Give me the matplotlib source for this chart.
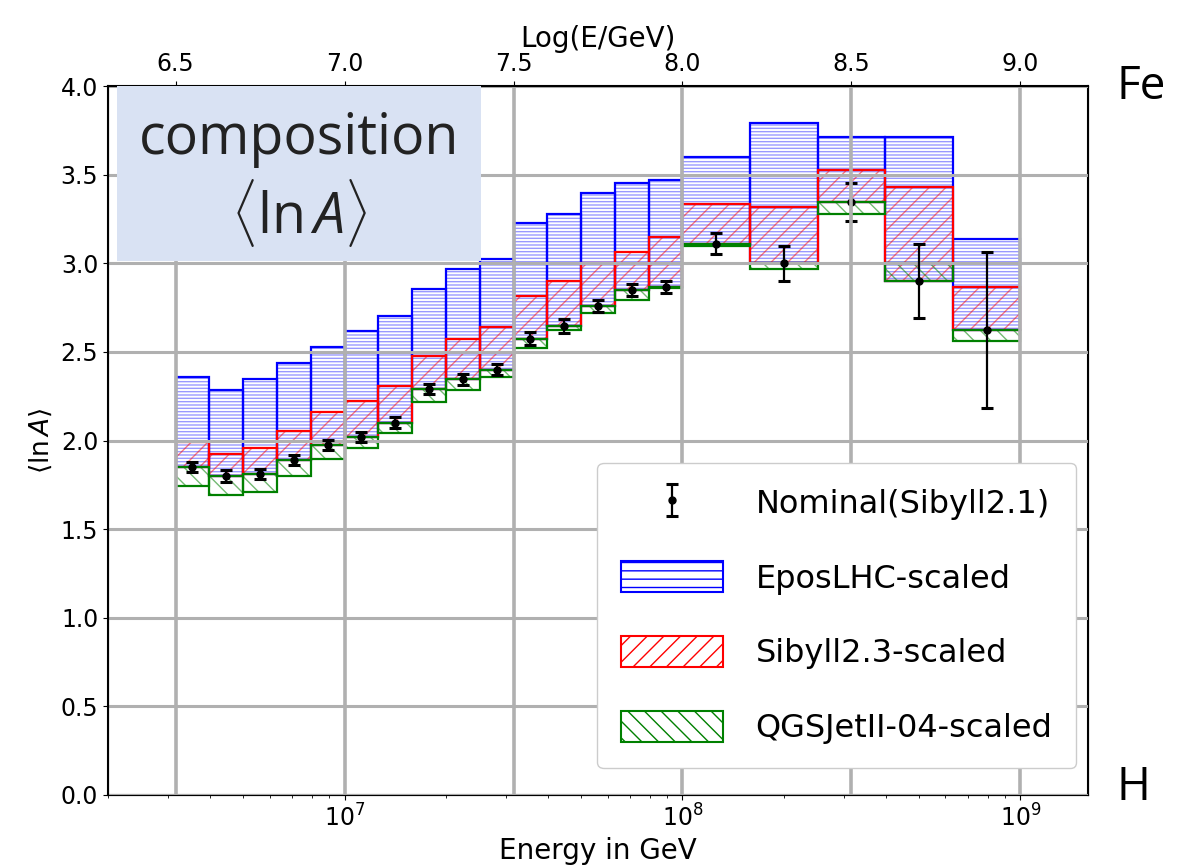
import numpy as np
import matplotlib
matplotlib.use("Agg")
import matplotlib.pyplot as plt
from matplotlib.colors import to_rgba
from matplotlib.patches import Patch, Rectangle

# bin edges in log10(E/GeV)
log_edges = [6.5, 6.6, 6.7, 6.8, 6.9, 7.0, 7.1, 7.2, 7.3, 7.4, 7.5,
             7.6, 7.7, 7.8, 7.9, 8.0, 8.2, 8.4, 8.6, 8.8, 9.0]

nominal = [1.85, 1.80, 1.81, 1.89, 1.975, 2.02, 2.10, 2.29, 2.345, 2.40,
           2.575, 2.645, 2.76, 2.85, 2.865, 3.11, 3.00, 3.345, 2.90, 2.625]
nominal_err = [0.028, 0.035, 0.03, 0.03, 0.03, 0.03, 0.03, 0.03, 0.03, 0.03,
               0.035, 0.04, 0.035, 0.035, 0.035, 0.06, 0.10, 0.105, 0.21, 0.44]
epos_lhc = [2.36, 2.285, 2.345, 2.44, 2.525, 2.62, 2.70, 2.855, 2.97, 3.025,
            3.225, 3.28, 3.395, 3.45, 3.47, 3.60, 3.79, 3.71, 3.71, 3.135]
sibyll23 = [1.99, 1.925, 1.955, 2.055, 2.16, 2.225, 2.31, 2.475, 2.57, 2.64,
            2.815, 2.90, 3.00, 3.065, 3.15, 3.335, 3.32, 3.525, 3.43, 2.865]
qgsjet = [1.745, 1.695, 1.71, 1.80, 1.895, 1.955, 2.04, 2.22, 2.285, 2.36,
          2.52, 2.625, 2.72, 2.79, 2.86, 3.10, 2.97, 3.28, 3.00, 2.56]

# label, values, colour, hatch in plot, hatch alpha, hatch in legend
models = [
    ("EposLHC-scaled", epos_lhc, "blue", "-----", 0.4, "--"),
    ("Sibyll2.3-scaled", sibyll23, "red", "//", 0.5, "//"),
    ("QGSJetII-04-scaled", qgsjet, "green", "\\\\", 0.55, "\\\\"),
]

plt.rcParams["mathtext.rm"] = "Open Sans"
plt.rcParams["mathtext.it"] = "Open Sans:italic"
plt.rcParams["hatch.linewidth"] = 1.0

fig = plt.figure(figsize=(11.89, 8.68), dpi=100)
ax = fig.add_axes([108 / 1189, 1 - 795 / 868, 980 / 1189, 709 / 868])

edges = 10 ** np.array(log_edges)
left = edges[:-1]
width = edges[1:] - edges[:-1]
centers = 10 ** ((np.array(log_edges[:-1]) + np.array(log_edges[1:])) / 2)
nom = np.array(nominal)

legend_handles = []
for label, vals, color, hatch, alpha, leg_hatch in models:
    h = np.array(vals) - nom
    ax.bar(left, h, width, bottom=nom, align="edge", facecolor="none",
           edgecolor=to_rgba(color, alpha), hatch=hatch, linewidth=0)
    ax.bar(left, h, width, bottom=nom, align="edge", fill=False,
           edgecolor=color, linewidth=1.6)
    legend_handles.append(Patch(facecolor="white", edgecolor=color,
                                hatch=leg_hatch, linewidth=1.5, label=label))

eb = ax.errorbar(centers, nom, yerr=nominal_err, fmt="o", color="black",
                 ms=5, capsize=4, elinewidth=1.6, capthick=2.2, zorder=3,
                 label="Nominal(Sibyll2.1)")

ax.set_xscale("log")
ax.set_xlim(10 ** 6.3, 10 ** 9.2)
ax.set_ylim(0, 4.0)
ax.set_yticks(np.arange(0, 4.01, 0.5))
ax.set_yticklabels([f"{v:.1f}" for v in np.arange(0, 4.01, 0.5)])
ax.set_axisbelow(False)
ax.grid(True, axis="x", which="major", color="#b8b8b8", linewidth=1.3)
ax.grid(True, axis="y", color="#b0b0b0", linewidth=2.2)
ax.tick_params(labelsize=17)
ax.set_xlabel("Energy in GeV", fontsize=20)
ax.set_ylabel(r"$\langle\ln A\rangle$", fontsize=19)
for s in ax.spines.values():
    s.set_linewidth(1.5)

ax2 = ax.twiny()
ax2.set_xlim(6.3, 9.2)
ax2.set_xticks(np.arange(6.5, 9.01, 0.5))
ax2.set_xticklabels([f"{v:.1f}" for v in np.arange(6.5, 9.01, 0.5)])
ax2.grid(True, axis="x", color="#b0b0b0", linewidth=2.6)
ax2.tick_params(labelsize=17)
ax2.set_xlabel("Log(E/GeV)", fontsize=20)

leg = ax2.legend([eb] + legend_handles,
                 ["Nominal(Sibyll2.1)"] + [m[0] for m in models],
                 loc="lower right", bbox_to_anchor=(0.988, 0.038),
                 borderaxespad=0, fontsize=23, handlelength=3.2,
                 handleheight=1.1, labelspacing=1.3, borderpad=0.75,
                 handletextpad=1.0, framealpha=1, edgecolor="#cccccc",
                 fancybox=True)
leg.set_zorder(10)

# slide annotations
fig.add_artist(Rectangle((117 / 1189, 1 - 261 / 868), 364 / 1189, 175 / 868,
                         transform=fig.transFigure, facecolor="#d9e2f3",
                         edgecolor="none", zorder=5))
fig.text(299 / 1189, 1 - 140 / 868, "composition", ha="center", va="center",
         fontsize=40, family="Open Sans", color="#222222", zorder=6)
fig.text(299 / 1189, 1 - 213 / 868, r"$\langle\mathrm{ln}\,A\rangle$",
         ha="center", va="center", fontsize=40, color="#222222",
         math_fontfamily="custom", zorder=6)
fig.text(1141 / 1189, 1 - 87 / 868, "Fe", ha="center", va="center",
         fontsize=33, family="Open Sans")
fig.text(1133 / 1189, 1 - 788 / 868, "H", ha="center", va="center",
         fontsize=33, family="Open Sans")

fig.savefig("out.png", dpi=100)
